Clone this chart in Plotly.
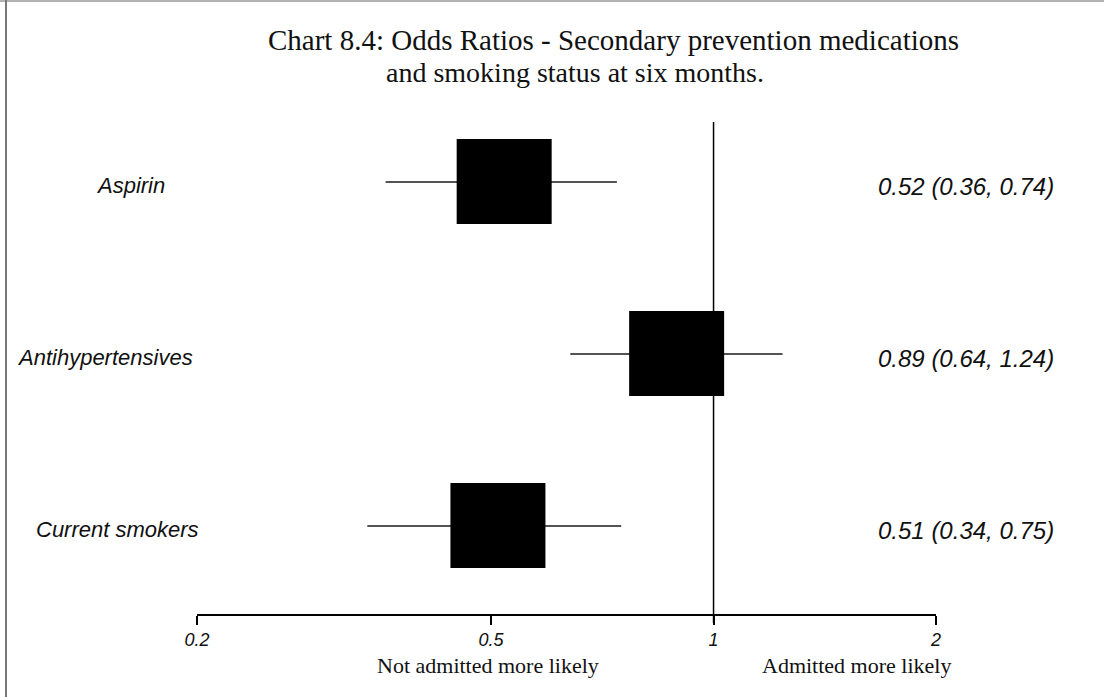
import numpy as np
import plotly.graph_objects as go

# ---- data ----
categories = ["Aspirin", "Antihypertensives", "Current smokers"]
odds_ratio = [0.52, 0.89, 0.51]
ci_lower = [0.36, 0.64, 0.34]
ci_upper = [0.74, 1.24, 0.75]
row_pos = [3, 2, 1]
tick_vals = [0.2, 0.5, 1, 2]
tick_text = ["0.2", "0.5", "1", "2"]
title_lines = ["Chart 8.4: Odds Ratios - Secondary prevention medications",
               "and smoking status at six months."]
side_labels = ["Not admitted more likely", "Admitted more likely"]

# ---- layout geometry (pixels) ----
W, H = 1104, 697
L, R, T, B = 197, 168, 122, 83
PW, PH = W - L - R, H - T - B
XMIN, XMAX = 0.2, 2.0


def px_x(px):
    return (px - L) / PW


def px_y(py):
    return (H - B - py) / PH


SANS = "Liberation Sans, Arial, sans-serif"
SERIF = "Liberation Serif, Times New Roman, serif"

fig = go.Figure()

# whiskers (confidence intervals) on the log axis
wx, wy = [], []
for lo, hi, y in zip(ci_lower, ci_upper, row_pos):
    wx += [lo, hi, None]
    wy += [y, y, None]
fig.add_trace(go.Scatter(x=wx, y=wy, mode="lines",
                         line=dict(color="#1a1a1a", width=1.5),
                         hoverinfo="skip", showlegend=False))
# helper (empty) trace to instantiate the linear log10 overlay axis
fig.add_trace(go.Scatter(x=[], y=[], xaxis="x2", yaxis="y", showlegend=False))

log_or = np.log10(odds_ratio)

shapes = []
# boxes centred on the odds ratios (fixed pixel size)
for lo_, y in zip(log_or, row_pos):
    shapes.append(dict(type="rect", xref="x2", yref="y",
                       xsizemode="pixel", ysizemode="pixel",
                       xanchor=float(lo_), yanchor=y,
                       x0=-47, x1=48, y0=-42, y1=43,
                       fillcolor="black", line=dict(width=0)))
# line of no effect at OR = 1
shapes.append(dict(type="line", xref="x2", yref="paper",
                   x0=float(np.log10(1)), x1=float(np.log10(1)),
                   y0=px_y(623), y1=1,
                   line=dict(color="black", width=1.5)))
# scanned page edges
shapes.append(dict(type="line", xref="paper", yref="paper",
                   x0=px_x(0), x1=px_x(W), y0=px_y(1), y1=px_y(1),
                   line=dict(color="#666666", width=1)))
shapes.append(dict(type="line", xref="paper", yref="paper",
                   x0=px_x(6), x1=px_x(6), y0=px_y(0), y1=px_y(H),
                   line=dict(color="#777777", width=2)))

annotations = []
# title
for txt, xc, yc, fs in zip(title_lines, [613, 575], [40, 72], [29, 28]):
    annotations.append(dict(text=txt, xref="paper", yref="paper",
                            x=px_x(xc), y=px_y(yc), xanchor="center", yanchor="middle",
                            showarrow=False, font=dict(family=SERIF, size=fs, color="#111")))
# row labels
label_centres = [130, 105, 117]
for name, y, cx in zip(categories, row_pos, label_centres):
    annotations.append(dict(text=name, xref="paper", yref="y", x=px_x(cx), y=y,
                            xanchor="center", yanchor="middle", yshift=-3, showarrow=False,
                            font=dict(family=SANS, size=22, style="italic", color="#111")))
# right-hand estimates
for o, lo, hi, y in zip(odds_ratio, ci_lower, ci_upper, row_pos):
    annotations.append(dict(text=f"{o:.2f} ({lo:.2f}, {hi:.2f})", xref="paper", yref="y",
                            x=px_x(876), y=y, xanchor="left", yanchor="middle", yshift=-4,
                            showarrow=False,
                            font=dict(family=SANS, size=24, style="italic", color="#111")))
# side captions
annotations.append(dict(text=side_labels[0], xref="paper", yref="paper",
                        x=px_x(488), y=px_y(665), xanchor="center", yanchor="middle",
                        showarrow=False, font=dict(family=SERIF, size=22, color="#111")))
annotations.append(dict(text=side_labels[1], xref="paper", yref="paper",
                        x=px_x(856), y=px_y(665), xanchor="center", yanchor="middle",
                        showarrow=False, font=dict(family=SERIF, size=22, color="#111")))

fig.update_layout(
    width=W, height=H,
    margin=dict(l=L, r=R, t=T, b=B, pad=0),
    paper_bgcolor="white", plot_bgcolor="white",
    showlegend=False,
    shapes=shapes, annotations=annotations,
    xaxis=dict(type="log", range=[np.log10(XMIN), np.log10(XMAX)],
               tickmode="array", tickvals=tick_vals, ticktext=tick_text,
               showline=True, linecolor="black", linewidth=1.5,
               ticks="outside", ticklen=9, tickwidth=1.5, tickcolor="black",
               showgrid=False, zeroline=False, fixedrange=True,
               tickfont=dict(family=SANS, size=18, style="italic", color="#111")),
    xaxis2=dict(type="linear", range=[np.log10(XMIN), np.log10(XMAX)],
                overlaying="x", anchor="y", visible=False, fixedrange=True),
    yaxis=dict(range=[1 - 88 / 172, 3 + 60 / 172], visible=False,
               showgrid=False, zeroline=False, fixedrange=True),
)

fig.write_html("out.html", config={"displayModeBar": False},
               post_script="document.body.style.margin='0px';")
